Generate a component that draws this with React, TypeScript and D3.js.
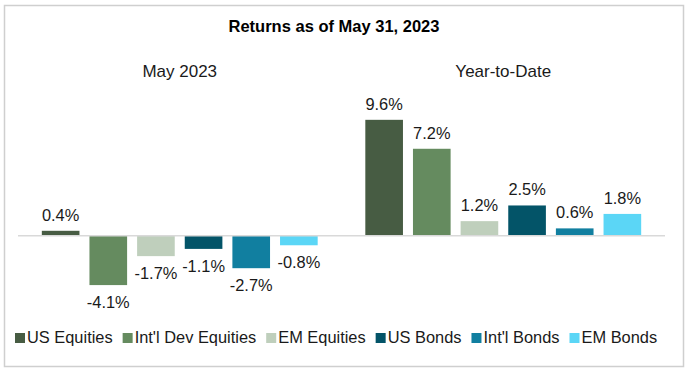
import React, { useRef, useEffect } from 'react'
import * as d3 from 'd3'

const periods = ['May 2023', 'Year-to-Date']
const assetClasses = ['US Equities', "Int'l Dev Equities", 'EM Equities', 'US Bonds', "Int'l Bonds", 'EM Bonds']
const mayReturns = [0.4, -4.1, -1.7, -1.1, -2.7, -0.8]
const ytdReturns = [9.6, 7.2, 1.2, 2.5, 0.6, 1.8]
const colors = ['#475C43', '#658B5F', '#BFCFBC', '#035468', '#117FA0', '#5BD6F6']
const title = 'Returns as of May 31, 2023'

const App = () => {
    const svgRef = useRef<SVGSVGElement>(null)

    useEffect(() => {
        const svg = d3.select(svgRef.current)
        svg.selectAll('*').remove()
        const font = "'Liberation Sans', Arial, sans-serif"

        const rows = [mayReturns, ytdReturns]
        const data = periods.flatMap((p, i) =>
            assetClasses.map((a, j) => ({ period: p, asset: a, value: rows[i][j], color: colors[j] }))
        )

        // outer frame
        svg.append('rect')
            .attr('x', 4.5).attr('y', 5.5)
            .attr('width', 679).attr('height', 361)
            .attr('fill', '#fff')
            .attr('stroke', '#cfcfcf')
            .attr('stroke-width', 1.5)

        svg.append('text')
            .attr('x', 334).attr('y', 31.5)
            .attr('text-anchor', 'middle')
            .style('font-family', font).style('font-size', '16.5px').style('font-weight', 'bold')
            .attr('fill', '#000')
            .text(title)

        const x0 = d3.scaleBand().domain(periods).range([18, 665])
        const x1 = d3.scaleBand().domain(assetClasses).range([0, x0.bandwidth()])
            .paddingInner(0.21).paddingOuter(0.5)
        const y = d3.scaleLinear().domain([-6, 10]).range([308, 115])

        // period labels
        svg.selectAll('.period')
            .data(periods)
            .enter()
            .append('text')
            .attr('x', (d) => x0(d)! + x0.bandwidth() / 2)
            .attr('y', 76.5)
            .attr('text-anchor', 'middle')
            .style('font-family', font).style('font-size', '17px')
            .attr('fill', '#1a1a1a')
            .text((d) => d)

        // bars
        svg.selectAll('.bar')
            .data(data)
            .enter()
            .append('rect')
            .attr('x', (d) => x0(d.period)! + x1(d.asset)!)
            .attr('width', x1.bandwidth())
            .attr('y', (d) => y(Math.max(0, d.value)))
            .attr('height', (d) => Math.abs(y(d.value) - y(0)))
            .attr('fill', (d) => d.color)

        // zero line
        svg.append('line')
            .attr('x1', 18).attr('x2', 665)
            .attr('y1', y(0)).attr('y2', y(0))
            .attr('stroke', '#d9d9d9')
            .attr('stroke-width', 1.5)

        // value labels
        svg.selectAll('.data-label')
            .data(data)
            .enter()
            .append('text')
            .attr('x', (d) => x0(d.period)! + x1(d.asset)! + x1.bandwidth() / 2)
            .attr('y', (d) => (d.value >= 0 ? y(d.value) - 10 : y(d.value) + 23))
            .attr('text-anchor', 'middle')
            .style('font-family', font).style('font-size', '16.4px')
            .attr('fill', '#1a1a1a')
            .text((d) => d.value.toFixed(1) + '%')

        // legend
        const legend = svg.append('g')
        let lx = 15
        assetClasses.forEach((a, i) => {
            legend.append('rect')
                .attr('x', lx).attr('y', 333)
                .attr('width', 10).attr('height', 10)
                .attr('fill', colors[i])
            const t = legend.append('text')
                .attr('x', lx + 12).attr('y', 343.3)
                .style('font-family', font).style('font-size', '16.4px')
                .attr('fill', '#1a1a1a')
                .text(a)
            const w = (t.node() as SVGTextElement).getComputedTextLength()
            lx += 12 + w + 10
        })
    }, [])

    return (
        <svg
            ref={svgRef}
            width={690}
            height={374}
            style={{ position: 'absolute', left: 0, top: 0, background: '#fff' }}
        />
    )
}

export default App
